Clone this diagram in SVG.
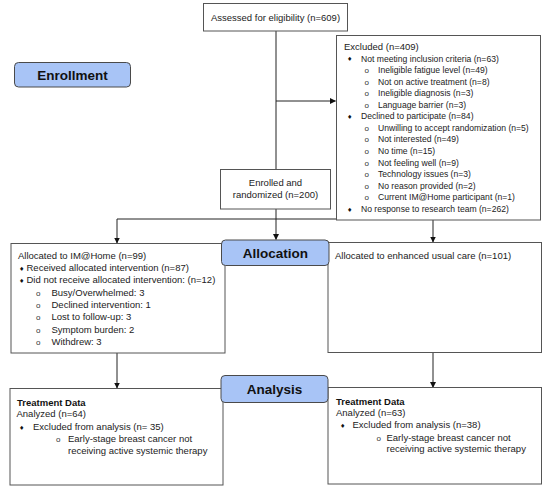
<svg xmlns="http://www.w3.org/2000/svg" width="550" height="489" viewBox="0 0 550 489">
<defs>
<marker id="ah" markerWidth="6" markerHeight="6" refX="5.5" refY="3" orient="auto" markerUnits="userSpaceOnUse">
<path d="M0,0 L6,3 L0,6 Z" fill="#111"/>
</marker>
<style>
.box{fill:#fff;stroke:#555;stroke-width:1}
.hdr{fill:#a8c4f6;stroke:#4a4a4a;stroke-width:1}
.t{font-family:"Liberation Sans",Arial,sans-serif;font-size:9.5px;fill:#222}
.s{font-family:"Liberation Sans",Arial,sans-serif;font-size:8.6px;fill:#222}
.b{font-family:"Liberation Sans",Arial,sans-serif;font-size:9.5px;font-weight:bold;fill:#111}
.h{font-family:"Liberation Sans",Arial,sans-serif;font-size:13.5px;font-weight:bold;fill:#111;text-anchor:middle}
.d{font-family:"DejaVu Sans",sans-serif;font-size:6px;fill:#111}
.o{font-family:"Liberation Sans",Arial,sans-serif;font-size:8px;fill:#333}
.c{text-anchor:middle}
.ln{stroke:#222;stroke-width:1;fill:none}
</style>
</defs>
<rect width="550" height="489" fill="#fff"/>

<g id="connectors">
<path class="ln" d="M276,31 V169"/>
<path class="ln" d="M276,101 H335.5" marker-end="url(#ah)"/>
<path class="ln" d="M276,209 V239.5" marker-end="url(#ah)"/>
<path class="ln" d="M117,219 H433"/>
<path class="ln" d="M117,219 V243" marker-end="url(#ah)"/>
<path class="ln" d="M433,219 V242" marker-end="url(#ah)"/>
<path class="ln" d="M117,353 V388" marker-end="url(#ah)"/>
<path class="ln" d="M433,352 V387.5" marker-end="url(#ah)"/>
</g>

<g id="assessed">
<rect class="box" x="203.5" y="3.5" width="144" height="27.5"/>
<text class="t c" x="275.5" y="20.5">Assessed for eligibility (n=609)</text>
</g>

<g id="enrollment">
<rect class="hdr" x="14.5" y="62.5" width="116" height="24.5" rx="4"/>
<text class="h" x="72.5" y="79.5">Enrollment</text>
</g>

<g id="excluded">
<rect class="box" x="336.5" y="35.5" width="204" height="184.5"/>
<text class="t" x="344" y="50">Excluded (n=409)</text>
<text class="d" x="347" y="61">♦</text><text class="s" x="361" y="61.5">Not meeting inclusion criteria (n=63)</text>
<text class="o" x="364.5" y="73">o</text><text class="s" x="378" y="73.1">Ineligible fatigue level (n=49)</text>
<text class="o" x="364.5" y="84.5">o</text><text class="s" x="378" y="84.6">Not on active treatment (n=8)</text>
<text class="o" x="364.5" y="96">o</text><text class="s" x="378" y="96.2">Ineligible diagnosis (n=3)</text>
<text class="o" x="364.5" y="107.5">o</text><text class="s" x="378" y="107.7">Language barrier (n=3)</text>
<text class="d" x="347" y="119">♦</text><text class="s" x="361" y="119.3">Declined to participate (n=84)</text>
<text class="o" x="364.5" y="130.8">o</text><text class="s" x="378" y="130.8">Unwilling to accept randomization (n=5)</text>
<text class="o" x="364.5" y="142.4">o</text><text class="s" x="378" y="142.4">Not interested (n=49)</text>
<text class="o" x="364.5" y="154">o</text><text class="s" x="378" y="154">No time (n=15)</text>
<text class="o" x="364.5" y="165.5">o</text><text class="s" x="378" y="165.5">Not feeling well (n=9)</text>
<text class="o" x="364.5" y="177">o</text><text class="s" x="378" y="177">Technology issues (n=3)</text>
<text class="o" x="364.5" y="188.6">o</text><text class="s" x="378" y="188.6">No reason provided (n=2)</text>
<text class="o" x="364.5" y="200.2">o</text><text class="s" x="378" y="200.2">Current IM@Home participant (n=1)</text>
<text class="d" x="347" y="211.5">♦</text><text class="s" x="361" y="211.7">No response to research team (n=262)</text>
</g>

<g id="enrolled">
<rect class="box" x="220.5" y="169.5" width="110" height="39.5"/>
<text class="t c" x="275.5" y="185.8">Enrolled and</text>
<text class="t c" x="275.5" y="197.5">randomized (n=200)</text>
</g>

<g id="alloc-im">
<rect class="box" x="11" y="243.5" width="214" height="109.5"/>
<text class="t" x="18" y="258.5">Allocated to IM@Home (n=99)</text>
<text class="d" x="19" y="270.5">♦</text><text class="t" x="26.5" y="270.8">Received allocated intervention (n=87)</text>
<text class="d" x="19" y="283">♦</text><text class="t" x="26.5" y="283.3">Did not receive allocated intervention: (n=12)</text>
<text class="o" x="36" y="295.6">o</text><text class="t" x="51.5" y="295.6">Busy/Overwhelmed: 3</text>
<text class="o" x="36" y="308">o</text><text class="t" x="51.5" y="308">Declined intervention: 1</text>
<text class="o" x="36" y="320.4">o</text><text class="t" x="51.5" y="320.4">Lost to follow-up: 3</text>
<text class="o" x="36" y="332.8">o</text><text class="t" x="51.5" y="332.8">Symptom burden: 2</text>
<text class="o" x="36" y="345.2">o</text><text class="t" x="51.5" y="345.2">Withdrew: 3</text>
</g>

<g id="alloc-euc">
<rect class="box" x="328" y="242.5" width="213.5" height="110"/>
<text class="t" x="335" y="258.5">Allocated to enhanced usual care (n=101)</text>
</g>

<g id="allocation">
<rect class="hdr" x="221.5" y="240" width="107.5" height="25.5" rx="4"/>
<text class="h" x="275.5" y="257.5">Allocation</text>
</g>

<g id="treat-im">
<rect class="box" x="10" y="388.5" width="213" height="96.5"/>
<text class="b" x="17" y="406">Treatment Data</text>
<text class="t" x="16.5" y="417">Analyzed (n=64)</text>
<text class="d" x="19" y="429.5">♦</text><text class="t" x="33" y="430">Excluded from analysis (n= 35)</text>
<text class="o" x="56" y="442.3">o</text><text class="t" x="68" y="442.3">Early-stage breast cancer not</text>
<text class="t" x="68" y="453.5">receiving active systemic therapy</text>
</g>

<g id="treat-euc">
<rect class="box" x="328" y="387.5" width="213.5" height="96.5"/>
<text class="b" x="336" y="404.5">Treatment Data</text>
<text class="t" x="336" y="415.8">Analyzed (n=63)</text>
<text class="d" x="340" y="427.5">♦</text><text class="t" x="352.5" y="427.8">Excluded from analysis (n=38)</text>
<text class="o" x="376.5" y="440.8">o</text><text class="t" x="386.5" y="440.8">Early-stage breast cancer not</text>
<text class="t" x="386.5" y="451.8">receiving active systemic therapy</text>
</g>

<g id="analysis">
<rect class="hdr" x="221" y="375.5" width="107" height="27" rx="4"/>
<text class="h" x="274.5" y="393.5">Analysis</text>
</g>
</svg>
